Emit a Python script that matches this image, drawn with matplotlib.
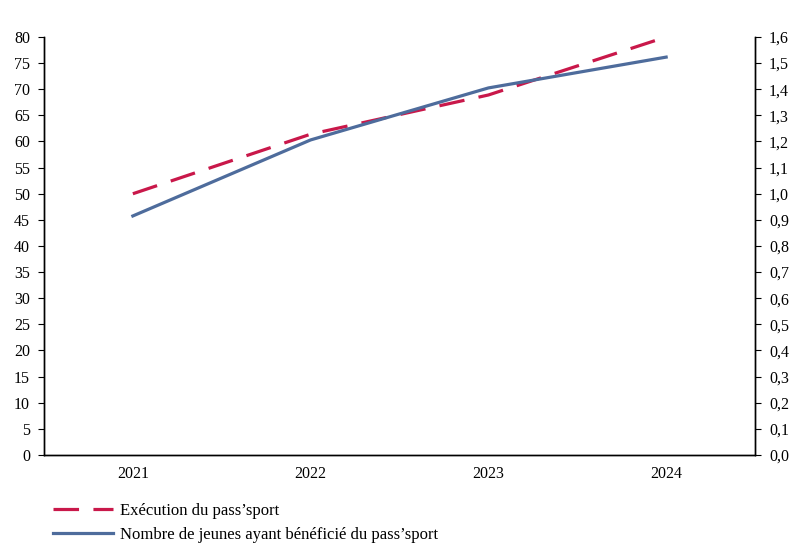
import matplotlib.pyplot as plt

years = ["2021", "2022", "2023", "2024"]
execution = [50.0, 61.4, 68.9, 80.0]          # left axis
beneficiaires = [0.915, 1.206, 1.405, 1.523]  # right axis

left_ticks = list(range(0, 85, 5))
right_ticks = [i / 10 for i in range(0, 17)]

RED = "#C9184A"
BLUE = "#4E6C9C"

plt.rcParams["font.family"] = ["Liberation Serif", "DejaVu Serif"]
plt.rcParams["font.size"] = 11.5

fig = plt.figure(figsize=(8.01, 5.58), dpi=100)
ax = fig.add_axes([0.0549, 0.1846, 0.8877, 0.7491])
ax2 = ax.twinx()

x = range(len(years))
l1, = ax.plot(x, execution, color=RED, lw=2.3, dashes=(8, 4.5),
              label="Exécution du pass\u2019sport")
l2, = ax2.plot(x, beneficiaires, color=BLUE, lw=2.3,
               label="Nombre de jeunes ayant bénéficié du pass\u2019sport")

ax.set_xlim(-0.5, 3.5)
ax.set_ylim(0, 80)
ax2.set_ylim(0, 1.6)
ax.set_xticks(list(x))
ax.set_xticklabels(years)
ax.tick_params(axis="x", length=0, pad=8)
ax.set_yticks(left_ticks)
ax2.set_yticks(right_ticks)
ax2.set_yticklabels([f"{v:.1f}".replace(".", ",") for v in right_ticks])
ax.tick_params(axis="y", length=4, width=0.8, pad=6)
ax2.tick_params(axis="y", length=4, width=0.8, pad=6)

for a in (ax, ax2):
    a.spines["top"].set_visible(False)
    for s in a.spines.values():
        s.set_linewidth(1.0)

fig.legend(handles=[l1, l2], loc="upper left", bbox_to_anchor=(0.047, 0.125),
           frameon=False, handlelength=3.65, handletextpad=0.42,
           labelspacing=0.45, fontsize=12)

fig.savefig("out.png", dpi=100)
